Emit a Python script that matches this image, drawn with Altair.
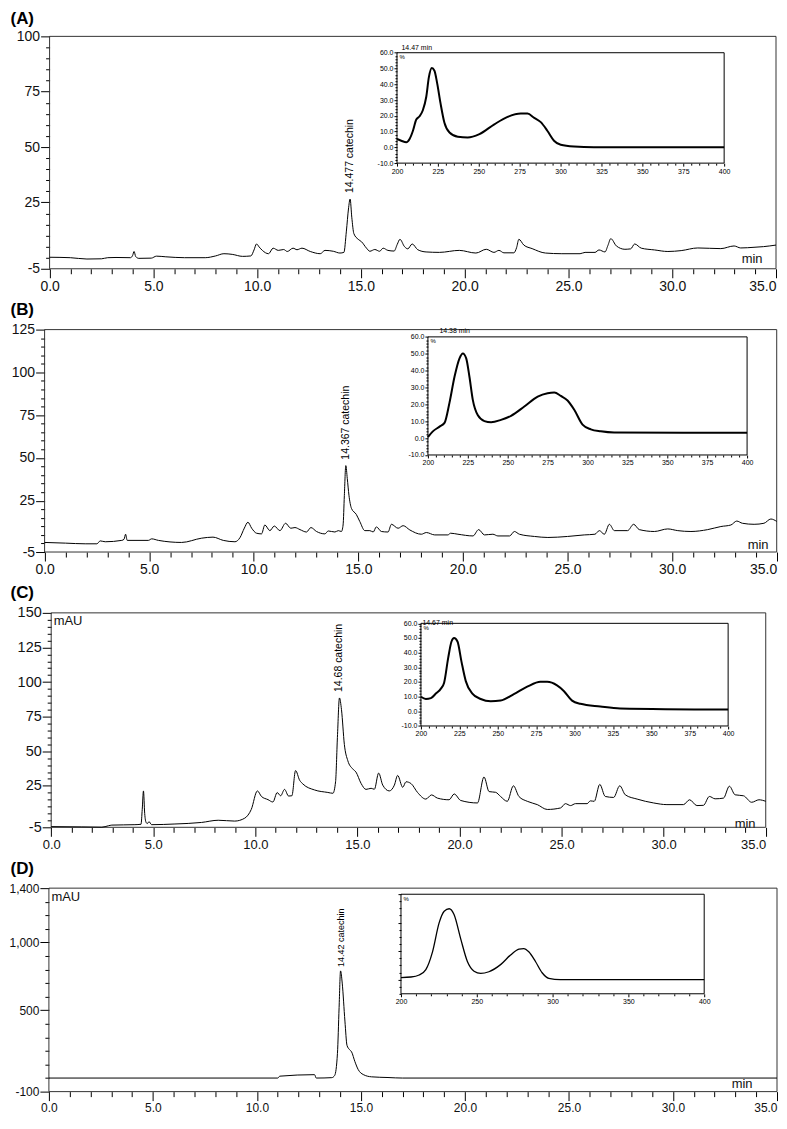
import altair as alt
import pandas as pd

FONT = "Liberation Sans"
MINUS = "replace(datum.label, '\u2212', '-')"

# ---------------- chromatograms: time (min) and signal (mAU) ----------------
A_time = [0.0, 1.0, 1.8, 2.5, 2.8, 3.2, 3.9, 4.0, 4.07, 4.15,
          4.3, 4.9, 5.15, 5.6, 6.5, 7.5, 8.0, 8.4, 8.8, 9.3,
          9.7, 9.85, 9.97, 10.1, 10.25, 10.55, 10.77, 11.02, 11.28, 11.45,
          11.73, 11.92, 12.16, 12.56, 13.04, 13.27, 13.67, 13.99, 14.18, 14.3,
          14.4, 14.48, 14.56, 14.66, 14.87, 15.03, 15.27, 15.43, 15.67, 15.9,
          16.07, 16.3, 16.6, 16.75, 16.88, 17.1, 17.26, 17.47, 17.74, 18.14,
          18.78, 19.74, 20.54, 21.04, 21.41, 21.65, 21.89, 22.37, 22.5, 22.61,
          22.85, 23.25, 23.89, 24.68, 25.56, 25.8, 26.28, 26.47, 26.76, 26.9,
          27.04, 27.31, 27.72, 28.0, 28.19, 28.51, 29.15, 29.79, 30.43, 31.23,
          32.34, 32.98, 33.3, 33.94, 34.4, 35.0]
A_signal = [0.2, 0.0, -0.6, -0.5, 0.0, 0.1, 0.0, 1.0, 2.8, 0.5,
            -0.3, -0.2, 0.7, 0.4, 0.0, 0.0, 0.8, 1.8, 1.5, 0.6,
            0.8, 3.5, 6.2, 4.8, 3.3, 1.8, 4.3, 3.3, 3.7, 2.8,
            4.3, 3.6, 4.3, 2.8, 1.8, 3.3, 2.9, 2.1, 2.4, 12.0,
            22.0, 26.5, 18.3, 10.9, 8.3, 7.2, 4.3, 2.9, 3.7, 2.9,
            4.3, 3.3, 3.0, 6.0, 8.3, 5.0, 4.0, 6.2, 3.6, 2.6,
            2.4, 3.3, 2.1, 3.8, 2.4, 3.3, 2.2, 2.2, 4.5, 8.3,
            5.7, 4.1, 2.1, 1.8, 1.8, 2.4, 2.4, 3.5, 2.6, 5.5,
            8.6, 5.3, 3.8, 4.0, 6.2, 4.3, 3.5, 2.8, 3.2, 4.4,
            4.1, 5.3, 4.4, 4.7, 5.0, 5.7]

B_time = [0.0, 1.0, 1.94, 2.5, 2.66, 2.9, 3.69, 3.8, 3.87, 3.95,
          4.96, 5.12, 5.44, 6.55, 7.51, 8.05, 8.54, 9.1, 9.34, 9.55,
          9.72, 9.9, 10.13, 10.37, 10.53, 10.77, 10.98, 11.25, 11.52, 11.77,
          11.97, 12.21, 12.52, 12.73, 13.0, 13.4, 13.56, 13.88, 14.04, 14.19,
          14.27, 14.33, 14.4, 14.47, 14.55, 14.67, 14.9, 15.07, 15.31, 15.55,
          15.71, 15.86, 16.1, 16.42, 16.58, 16.9, 17.14, 17.46, 18.01, 18.25,
          18.65, 19.28, 19.41, 19.76, 20.48, 20.75, 21.03, 21.43, 21.67, 22.23,
          22.46, 22.7, 23.42, 24.06, 25.0, 25.8, 26.31, 26.52, 26.76, 27.0,
          27.24, 27.87, 28.16, 28.43, 29.15, 29.79, 30.27, 30.9, 31.7, 32.33,
          32.81, 33.09, 33.36, 33.92, 34.39, 34.72, 35.0]
B_signal = [0.6, 0.2, -0.2, -0.2, 1.5, 1.0, 1.8, 2.5, 5.4, 1.8,
            1.8, 2.7, 1.8, 0.6, 3.1, 3.7, 1.8, 1.0, 3.4, 9.0,
            12.4, 8.9, 6.0, 5.6, 10.8, 7.5, 10.2, 7.5, 11.8, 8.9,
            9.3, 8.1, 6.7, 9.3, 7.0, 5.6, 7.3, 6.7, 7.5, 7.0,
            10.8, 28.0, 45.5, 38.0, 28.2, 20.5, 17.0, 12.8, 7.5, 7.5,
            6.7, 9.7, 7.0, 6.7, 11.2, 8.9, 10.4, 7.9, 5.4, 6.4,
            5.0, 5.0, 6.0, 5.4, 4.4, 8.1, 5.0, 5.4, 4.4, 4.4,
            7.0, 5.4, 4.1, 3.5, 4.1, 5.0, 5.4, 7.5, 5.4, 11.2,
            7.5, 7.5, 11.2, 8.1, 7.0, 8.5, 7.5, 7.0, 8.1, 9.9,
            10.8, 13.1, 11.8, 11.2, 11.8, 14.3, 12.9]

C_time = [0.0, 1.5, 2.48, 2.8, 2.97, 4.1, 4.4, 4.46, 4.52, 4.58,
          4.65, 4.71, 4.79, 4.92, 6.06, 7.36, 8.18, 8.99, 9.48, 9.8,
          10.1, 10.3, 10.62, 10.86, 11.07, 11.24, 11.43, 11.63, 11.79, 11.97,
          12.17, 12.33, 12.9, 13.55, 13.8, 13.93, 14.02, 14.12, 14.22, 14.36,
          14.53, 14.77, 14.93, 15.18, 15.42, 15.67, 15.83, 16.04, 16.24, 16.56,
          16.81, 16.97, 17.22, 17.38, 17.62, 17.95, 18.35, 18.63, 18.92, 19.49,
          19.74, 20.06, 20.88, 21.2, 21.45, 21.77, 22.01, 22.34, 22.64, 22.91,
          23.32, 23.81, 24.3, 24.95, 25.19, 25.44, 25.68, 26.25, 26.41, 26.6,
          26.87, 27.14, 27.55, 27.85, 28.12, 28.7, 29.51, 30.16, 30.97, 31.27,
          31.63, 31.95, 32.24, 32.52, 32.93, 33.22, 33.5, 33.91, 34.31, 34.67,
          35.0]
C_signal = [-4.5, -4.7, -4.9, -3.9, -3.4, -3.1, -2.8, 8.0, 21.3, 5.0,
            -1.5, -2.3, -0.9, -3.1, -2.6, -1.5, 0.1, -0.5, 1.6, 7.9,
            21.3, 17.3, 15.0, 13.3, 20.1, 17.8, 22.4, 17.6, 17.8, 36.0,
            29.0, 26.3, 22.0, 20.2, 19.6, 27.9, 60.0, 88.5, 80.0, 54.9,
            43.1, 37.2, 34.9, 26.7, 22.4, 23.2, 22.5, 34.2, 25.5, 21.3,
            25.5, 32.5, 23.9, 27.9, 26.7, 20.1, 15.4, 18.4, 16.1, 14.9,
            19.1, 14.4, 12.6, 31.4, 20.8, 20.3, 17.3, 13.8, 25.0, 17.3,
            13.8, 11.4, 7.9, 9.0, 12.1, 10.7, 12.1, 12.1, 14.1, 13.8,
            26.0, 17.3, 16.6, 25.0, 18.5, 15.4, 12.6, 11.4, 11.4, 14.9,
            10.7, 10.9, 17.3, 15.6, 16.1, 24.7, 18.5, 17.8, 13.1, 14.9,
            13.8]

D_time = [0.0, 11.0, 11.1, 12.77, 12.85, 13.6, 13.74, 13.87, 13.95, 14.02,
          14.1, 14.23, 14.33, 14.45, 14.55, 14.71, 14.87, 15.11, 15.51, 16.3,
          17.0, 35.0]
D_signal = [0, 0, 14, 25, 0, 3, 20, 180, 520, 790,
            700, 420, 241, 210, 193, 121, 62, 26, 9, 4,
            0, 0]

# ---------------- UV spectra (insets): wavelength (nm) and % ----------------
A_wl = [200, 202.6, 205.7, 207.7, 209.7, 211.8, 213.8, 215.8, 217.9, 219.5,
        221.3, 222.9, 224.6, 226.6, 229.0, 232.1, 237.2, 243.2, 250.4, 259.5,
        267.6, 275.7, 279.8, 283.9, 287.9, 292.0, 296.0, 300.1, 308.2, 320.4, 400]
A_pct = [5.3, 4.2, 3.2, 5.3, 10.4, 17.7, 19.7, 23.5, 32.1, 44.5,
         50.3, 48.6, 40.4, 28.0, 15.6, 9.4, 6.7, 6.3, 8.4, 14.6,
         19.3, 21.4, 21.4, 18.7, 16.0, 10.4, 4.2, 1.6, 0.5, 0.1, 0.1]

B_wl = [200, 203.1, 207.3, 210.4, 213.5, 216.7, 219.8, 221.9, 224.0, 226.0,
        228.1, 231.3, 235.4, 239.6, 245.8, 252.1, 260.4, 268.8, 275.0, 279.2,
        283.3, 287.5, 291.7, 296.9, 302.1, 308.3, 316.7, 400]
B_pct = [0.6, 4.0, 6.8, 9.0, 20.9, 36.5, 47.3, 50.2, 47.3, 36.5,
         22.8, 13.5, 10.1, 9.4, 10.8, 13.2, 18.7, 24.6, 26.6, 27.0,
         25.0, 22.3, 16.8, 8.0, 5.2, 4.0, 3.3, 3.2]

C_wl = [200, 203.2, 206.5, 209.7, 213.0, 215.1, 217.7, 219.9, 221.6, 223.8,
        226.4, 229.2, 233.5, 238.9, 245.4, 251.9, 260.5, 269.2, 277.8, 282.2,
        288.6, 293.0, 298.4, 303.8, 316.8, 329.7, 400]
C_pct = [9.9, 8.4, 9.0, 12.1, 15.5, 19.5, 36.1, 47.6, 50.0, 47.6,
         33.9, 20.6, 12.1, 8.4, 6.8, 7.3, 11.7, 16.8, 20.1, 20.1,
         17.7, 13.9, 7.3, 5.1, 3.3, 2.0, 1.2]

D_wl = [200, 206.6, 212.0, 216.4, 220.8, 225.2, 228.5, 231.8, 235.0, 239.4,
        243.8, 248.2, 252.6, 258.0, 265.7, 272.3, 277.8, 281.0, 284.3, 288.7,
        293.1, 297.5, 305.1, 400]
D_pct = [1.4, 1.8, 3.2, 7.0, 19.5, 40.0, 48.0, 49.8, 45.7, 28.6,
         12.7, 5.9, 4.3, 5.5, 10.5, 17.3, 21.4, 21.8, 19.5, 12.7,
         4.8, 0.9, 0.0, 0.0]

# ---------------- tick values and labels ----------------
X_MAJOR = [0, 5, 10, 15, 20, 25, 30, 35]
X_MINOR = [v for v in range(0, 36) if v % 5]
A_YTICKS = [-5, 25, 50, 75, 100]
B_YTICKS = [-5, 25, 50, 75, 100, 125]
C_YTICKS = [-5, 25, 50, 75, 100, 125, 150]
D_YTICKS = [-100, 500, 1000, 1400]
SPEC_X_25 = [200, 225, 250, 275, 300, 325, 350, 375, 400]
SPEC_X_50 = [200, 250, 300, 350, 400]
SPEC_Y_10 = [-10, 0, 10, 20, 30, 40, 50, 60]
SPEC_Y_20 = [0, 20, 40, 60]

# whole figure is one layered view; each panel is placed by its own scales
WT, HT = 770, 1082

PANELS = [
    dict(title="(A)", title_y=-2, box=(39.7, 768, 24, 257),
         t=A_time, s=A_signal, ydom=[-5, 100], ymaj=A_YTICKS,
         ymin=[v for v in range(0, 100, 5) if v not in A_YTICKS], yfmt="d", ytitle=None,
         xfs=14, yfs=14, min_x=754, min_dy=-3,
         peak=(14.48, 26.5, "14.477 catechin"), peak_dx=6, peak_fs=10.5,
         wl=A_wl, pct=A_pct, ibox=(388, 716, 40.4, 151.1), note="14.47 min", note_d=(4, -2),
         sx=SPEC_X_25, sxm=[v for v in range(200, 401, 5) if v % 25], sy=SPEC_Y_10,
         sym=[v for v in range(-10, 61, 2) if v % 10], sylabels=True, iw=2),
    dict(title="(B)", title_y=290, box=(34.7, 768.7, 318, 541),
         t=B_time, s=B_signal, ydom=[-5, 125], ymaj=B_YTICKS,
         ymin=[v for v in range(0, 125, 5) if v not in B_YTICKS], yfmt="d", ytitle=None,
         xfs=14, yfs=14, min_x=760, min_dy=-1,
         peak=(14.4, 45.5, "14.367 catechin"), peak_dx=6, peak_fs=10.5,
         wl=B_wl, pct=B_pct, ibox=(419, 739, 325.3, 443.7), note="14.38 min", note_d=(11, -3),
         sx=SPEC_X_25, sxm=[v for v in range(200, 401, 5) if v % 25], sy=SPEC_Y_10,
         sym=[v for v in range(-10, 61, 2) if v % 10], sylabels=True, iw=2),
    dict(title="(C)", title_y=574, box=(41.3, 757.7, 602, 817),
         t=C_time, s=C_signal, ydom=[-5, 150], ymaj=C_YTICKS,
         ymin=[v for v in range(0, 150, 5) if v not in C_YTICKS], yfmt="d", ytitle="mAU",
         xfs=13, yfs=14.5, min_x=747, min_dy=3,
         peak=(14.12, 88.5, "14.68 catechin"), peak_dx=6, peak_fs=10.5,
         wl=C_wl, pct=C_pct, ibox=(412, 720, 612.5, 715.4), note="14.67 min", note_d=(1, 2),
         sx=SPEC_X_25, sxm=[v for v in range(200, 401, 5) if v % 25], sy=SPEC_Y_10,
         sym=[v for v in range(-10, 61, 2) if v % 10], sylabels=True, iw=2),
    dict(title="(D)", title_y=850, box=(39, 769, 878, 1082),
         t=D_time, s=D_signal, ydom=[-100, 1400], ymaj=D_YTICKS,
         ymin=[v for v in range(-100, 1401, 100) if v not in D_YTICKS], yfmt=",d", ytitle="mAU",
         xfs=12, yfs=12, min_x=744, min_dy=-1,
         peak=(14.02, 790, "14.42 catechin"), peak_dx=4, peak_fs=9,
         wl=D_wl, pct=D_pct, ibox=(392, 696, 884.1, 983.9), note=None, note_d=(0, 0),
         sx=SPEC_X_50, sxm=[v for v in range(200, 401, 10) if v % 50], sy=SPEC_Y_20,
         sym=[v for v in range(-10, 61, 5) if v % 20], sylabels=False, iw=1.3),
]


def xscale(lo, hi, pl, pr):
    s = (pr - pl) / (hi - lo)
    return alt.Scale(domain=[lo - pl / s, hi + (WT - pr) / s], nice=False, zero=False)


def yscale(lo, hi, pb, pt):
    s = (pb - pt) / (hi - lo)
    return alt.Scale(domain=[lo - (HT - pb) / s, hi + pt / s], nice=False, zero=False)


def panel_layers(p):
    pl, pr, ptop, pbot = p["box"]
    y0, y1 = p["ydom"]

    def xs():
        return xscale(0, 35, pl, pr)

    def ys():
        return yscale(y0, y1, pbot, ptop)

    frame = alt.Chart(pd.DataFrame({"a": [0], "b": [35], "c": [y0], "d": [y1]})).mark_rect(
        fill=None, fillOpacity=0, stroke="#333", strokeWidth=1).encode(
        x=alt.X("a:Q", scale=xs(), axis=None), x2=alt.X2("b:Q"),
        y=alt.Y("c:Q", scale=ys(), axis=None), y2=alt.Y2("d:Q"))

    xaxis = alt.Axis(orient="bottom", offset=pbot - HT, values=X_MAJOR, format=".1f", domain=False,
                     tickSize=9, labelPadding=2, labelFontSize=p["xfs"],
                     labelAlign={"condition": {"test": "datum.value >= 35", "value": "right"},
                                 "value": "center"},
                     title="min", titleX=p["min_x"], titleY=p["min_dy"], titleAlign="right",
                     titleBaseline="bottom", titleFontSize=13, titleFontWeight="normal",
                     titleColor="#111")
    ykw = dict(orient="left", offset=-pl, values=p["ymaj"], format=p["yfmt"], domain=False,
               tickSize=9, labelPadding=1, labelFontSize=p["yfs"], labelExpr=MINUS)
    if p["ytitle"]:
        ykw.update(title=p["ytitle"], titleAngle=0, titleX=2, titleY=ptop + 2, titleAlign="left",
                   titleBaseline="top", titleFontSize=13, titleFontWeight="normal", titleColor="#111")
    else:
        ykw.update(title=None)

    line = alt.Chart(pd.DataFrame({"t": p["t"], "s": p["s"]})).mark_line(
        color="black", strokeWidth=1, interpolate="monotone").encode(
        x=alt.X("t:Q", scale=xs(), axis=xaxis),
        y=alt.Y("s:Q", scale=ys(), axis=alt.Axis(**ykw)))
    xminor = alt.Chart(pd.DataFrame({"v": X_MINOR})).mark_point(opacity=0).encode(
        x=alt.X("v:Q", scale=xs(), axis=alt.Axis(orient="bottom", offset=pbot - HT, values=X_MINOR,
                                                  labels=False, domain=False, tickSize=5,
                                                  tickColor="black", title=None)))
    yminor = alt.Chart(pd.DataFrame({"v": p["ymin"]})).mark_point(opacity=0).encode(
        y=alt.Y("v:Q", scale=ys(), axis=alt.Axis(
            orient="left", offset=-pl, values=p["ymin"], labels=False, domain=False, tickSize=4,
            tickColor="black",
            title=p["title"], titleAngle=0, titleX=-pl, titleY=p["title_y"], titleAlign="left",
            titleBaseline="top", titleFontSize=17, titleFontWeight="bold", titleColor="black")))
    pt, pv, plabel = p["peak"]
    peak = alt.Chart(pd.DataFrame({"t": [pt], "s": [pv], "label": [plabel]})).mark_text(
        angle=270, align="left", baseline="middle", dx=p["peak_dx"], fontSize=p["peak_fs"],
        font=FONT, color="black").encode(
        x=alt.X("t:Q", scale=xs(), axis=None), y=alt.Y("s:Q", scale=ys(), axis=None), text="label:N")

    # ---------- inset spectrum ----------
    x0, x1, yt, yb = p["ibox"]

    def xsi():
        return xscale(200, 400, x0, x1)

    def ysi():
        return yscale(-10, 60, yb, yt)

    iframe = alt.Chart(pd.DataFrame({"a": [200], "b": [400], "c": [-10], "d": [60]})).mark_rect(
        fill="white", stroke="black", strokeWidth=1).encode(
        x=alt.X("a:Q", scale=xsi(), axis=None), x2=alt.X2("b:Q"),
        y=alt.Y("c:Q", scale=ysi(), axis=None), y2=alt.Y2("d:Q"))

    ixkw = dict(orient="bottom", offset=yb - HT, values=p["sx"], format="d", tickSize=3,
                labelPadding=1, labelFontSize=7, labelColor="black", zindex=2, domain=False)
    if p["note"]:
        ixkw.update(title=p["note"], titleX=x0 + p["note_d"][0], titleY=(yt - yb) + p["note_d"][1],
                    titleAlign="left", titleBaseline="bottom", titleFontSize=7,
                    titleFontWeight="normal", titleColor="black")
    else:
        ixkw.update(title=None)
    iykw = dict(orient="left", offset=-x0, values=p["sy"], tickSize=3, labelPadding=1,
                labelFontSize=7, labelColor="black", zindex=2, domain=False,
                title="%", titleAngle=0, titleX=2, titleY=yt + 1, titleAlign="left",
                titleBaseline="top", titleFontSize=6, titleFontWeight="normal", titleColor="black")
    if p["sylabels"]:
        iykw.update(format=".1f", labelExpr=MINUS)
    else:
        iykw.update(labels=False)

    iline = alt.Chart(pd.DataFrame({"wl": p["wl"], "pct": p["pct"]})).mark_line(
        color="black", strokeWidth=p["iw"], interpolate="monotone").encode(
        x=alt.X("wl:Q", scale=xsi(), axis=alt.Axis(**ixkw)),
        y=alt.Y("pct:Q", scale=ysi(), axis=alt.Axis(**iykw)))
    ixminor = alt.Chart(pd.DataFrame({"v": p["sxm"]})).mark_point(opacity=0).encode(
        x=alt.X("v:Q", scale=xsi(), axis=alt.Axis(orient="bottom", offset=yb - HT, values=p["sxm"],
                                                   labels=False, domain=False, tickSize=2,
                                                   tickColor="black", title=None, zindex=2)))
    iyminor = alt.Chart(pd.DataFrame({"v": p["sym"]})).mark_point(opacity=0).encode(
        y=alt.Y("v:Q", scale=ysi(), axis=alt.Axis(orient="left", offset=-x0, values=p["sym"],
                                                   labels=False, domain=False, tickSize=2,
                                                   tickColor="black", title=None, zindex=2)))
    return [frame, line, xminor, yminor, peak, iframe, iline, ixminor, iyminor]


layers = []
for p in PANELS:
    layers.extend(panel_layers(p))

chart = alt.layer(*layers).resolve_scale(x="independent", y="independent").resolve_axis(
    x="independent", y="independent").properties(width=WT, height=HT, padding=0).configure_view(
    stroke=None).configure_axis(
    grid=False, labelFont=FONT, titleFont=FONT, domainColor="black", tickColor="black",
    labelColor="#111")

chart.save("out.html", embed_options={"renderer": "svg", "actions": False})
